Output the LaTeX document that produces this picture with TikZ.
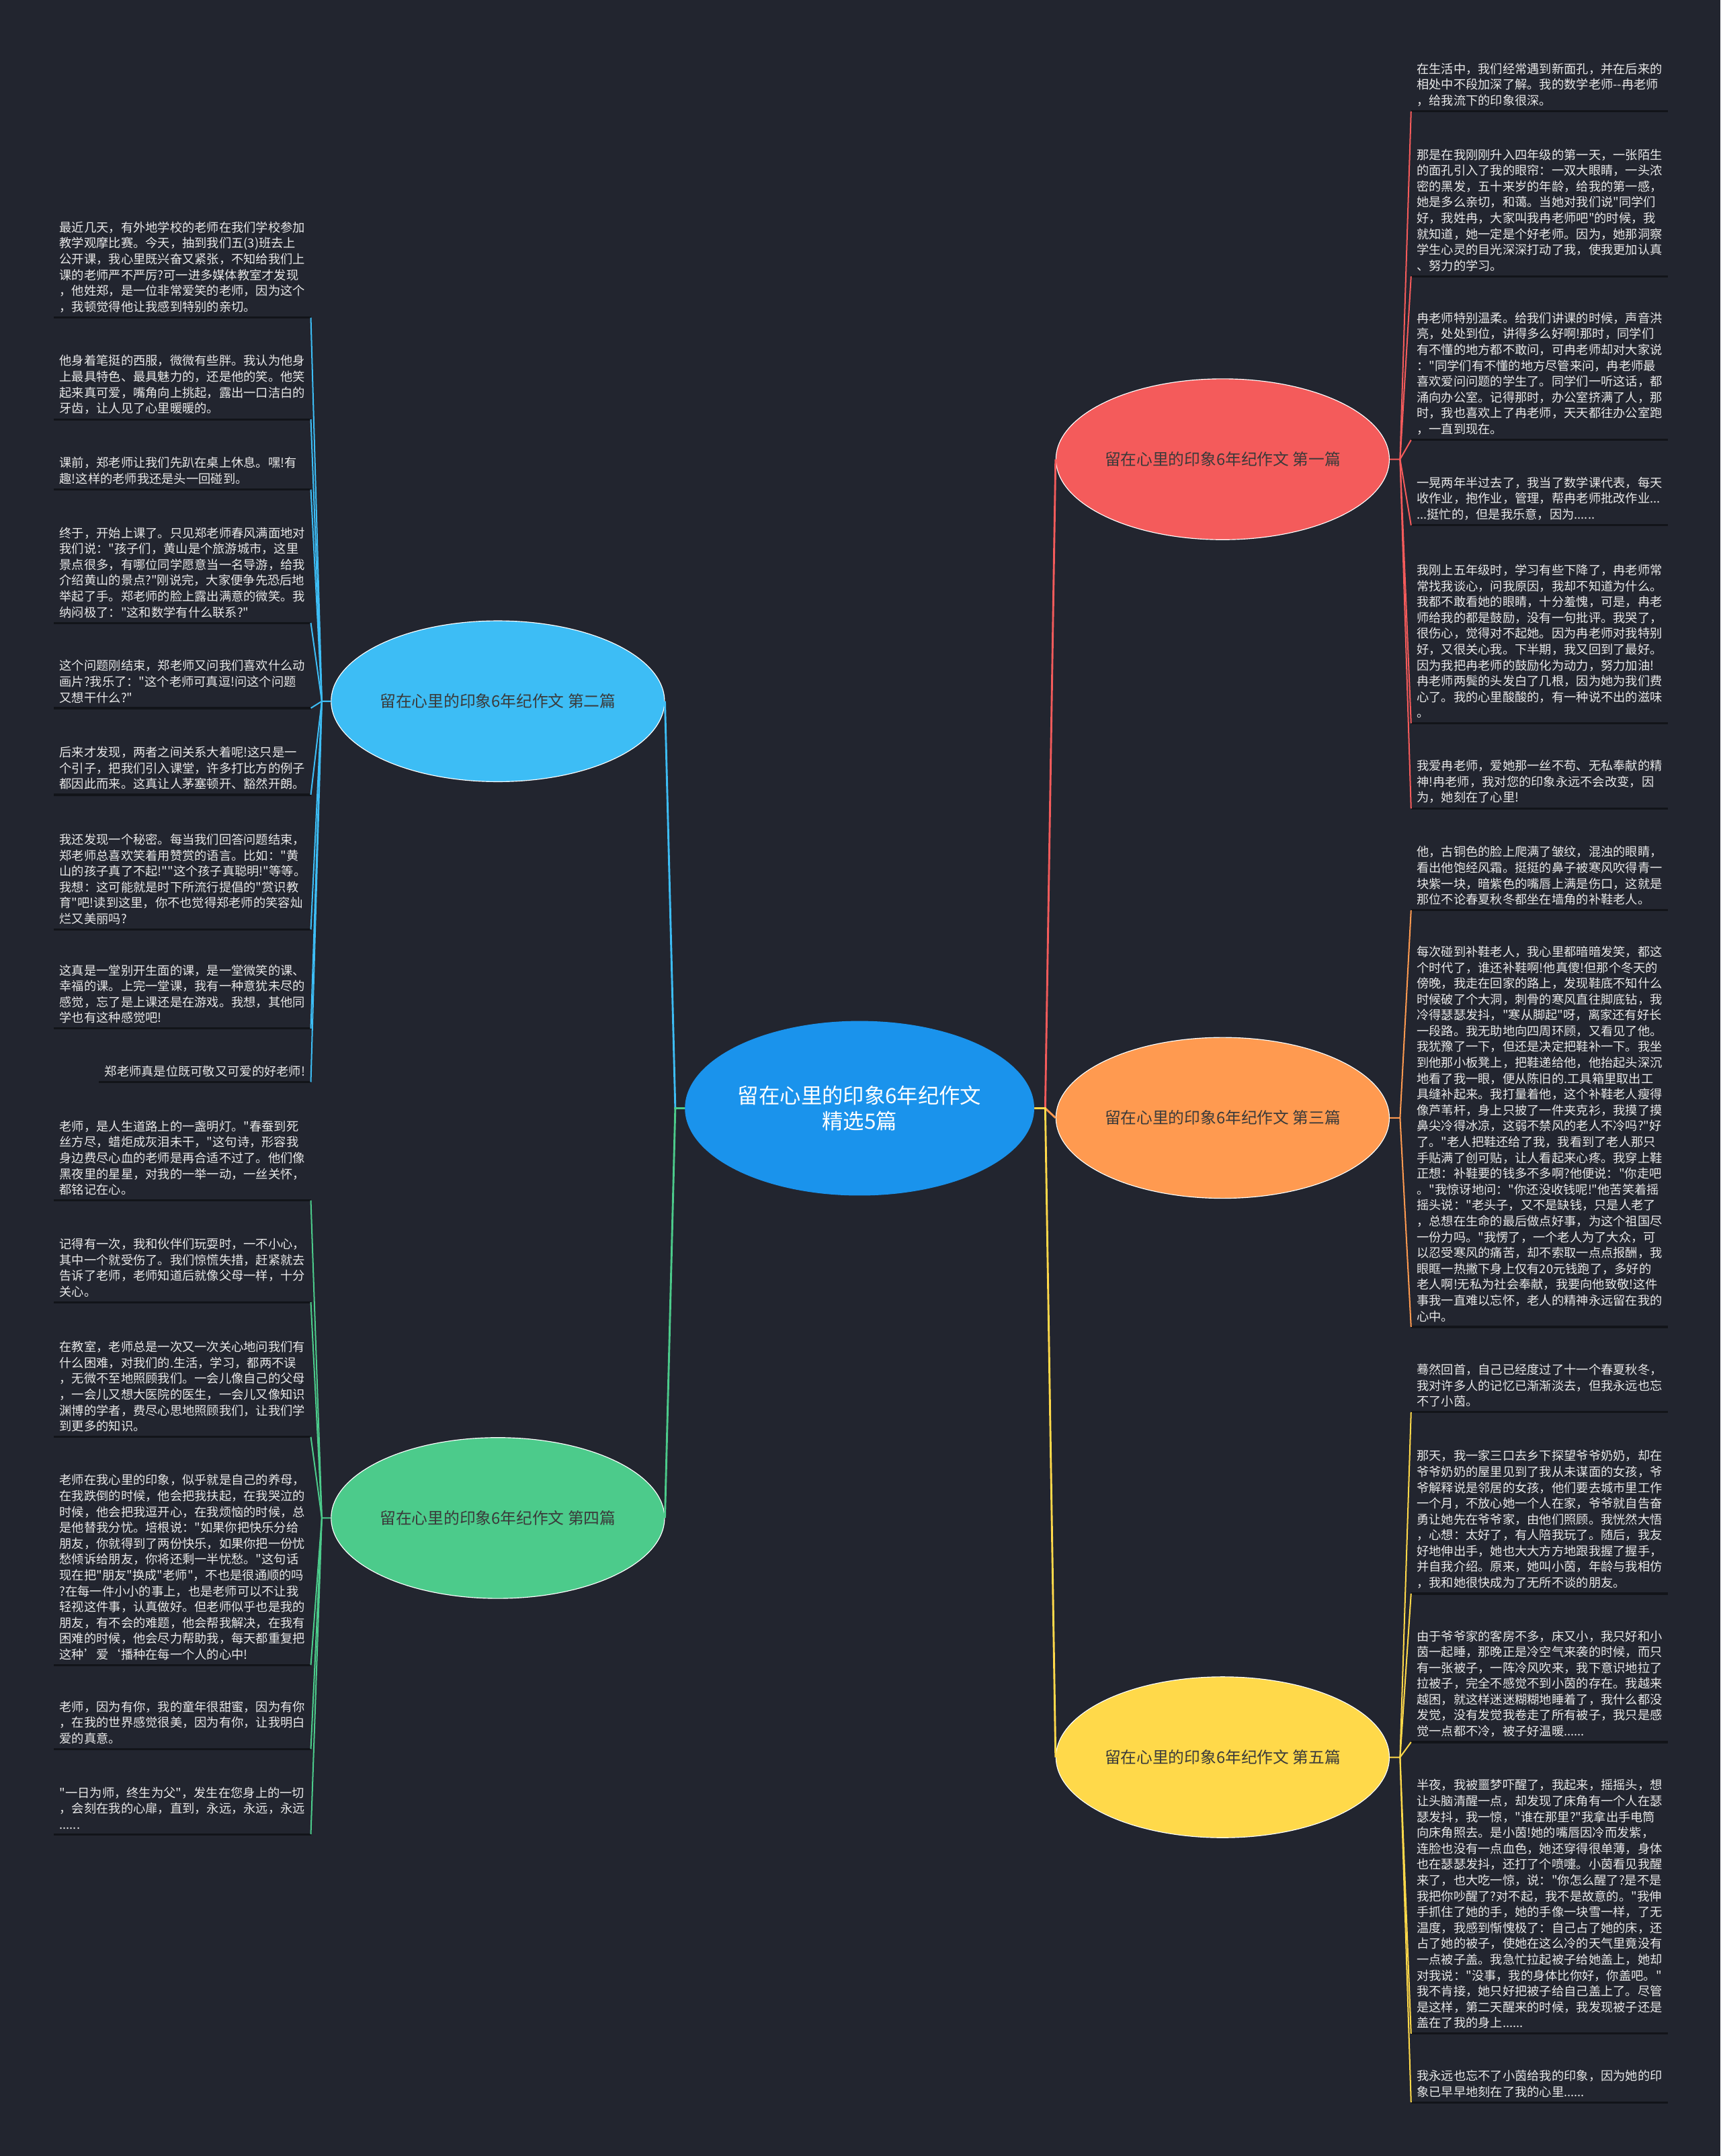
\documentclass[tikz,border=0pt]{standalone}
\usepackage{fontspec}
\usetikzlibrary{shapes.geometric}
\newfontfamily\cjk{Noto Sans CJK SC}
\definecolor{bgDark}{HTML}{22252F}
\definecolor{rootBlue}{HTML}{1A93EC}
\definecolor{topRed}{HTML}{F45B5B}
\definecolor{topBlue}{HTML}{3DBDF5}
\definecolor{topOrange}{HTML}{FF9A50}
\definecolor{topGreen}{HTML}{4CCB8B}
\definecolor{topYellow}{HTML}{FFD94A}
\definecolor{topicText}{HTML}{3A3A3A}
\definecolor{leafText}{HTML}{E8E8E8}
\definecolor{ulineDark}{HTML}{121419}

\begin{document}
\begin{tikzpicture}[x=0.05cm, y=-0.05cm,
    root/.style={ellipse, fill=rootBlue, minimum width=12.7cm, minimum height=6.35cm,
                 inner sep=0pt, align=center, text=white,
                 font=\cjk\fontsize{21.8}{27}\selectfont},
    topic/.style={ellipse, draw=white, line width=0.8pt, minimum width=12.1cm,
                  minimum height=5.85cm, inner sep=0pt, text=topicText,
                  font=\cjk\fontsize{16.5}{20}\selectfont},
    uline/.style={draw=ulineDark, line width=2.2pt},
    leaf/.style={align=left, inner xsep=5.7pt, inner ysep=5pt, text=leafText,
                 font=\cjk\fontsize{12.7}{16.4}\selectfont,
                 append after command={(\tikzlastnode.south west) edge[uline] (\tikzlastnode.south east)}},
    leafL/.style={leaf, text width=254pt, anchor=south east},
    leafR/.style={leaf, text width=254pt, anchor=south west},
    link/.style={line width=2pt},
    twig/.style={line width=1.4pt},
  ]
  \fill[bgDark] (0,0) rectangle (1251,1568);
  \useasboundingbox (0,0) rectangle (1251,1568);

  % centre and the five essays
  \node[root] (main) at (625,806) {留在心里的印象6年纪作文\\精选5篇};
  \node[topic, fill=topRed] (t1) at (889,334) {留在心里的印象6年纪作文 第一篇};
  \node[topic, fill=topBlue] (t2) at (362,510) {留在心里的印象6年纪作文 第二篇};
  \node[topic, fill=topOrange] (t3) at (889,813) {留在心里的印象6年纪作文 第三篇};
  \node[topic, fill=topGreen] (t4) at (362,1104) {留在心里的印象6年纪作文 第四篇};
  \node[topic, fill=topYellow] (t5) at (889,1278) {留在心里的印象6年纪作文 第五篇};

  \coordinate (jr) at (760,806);
  \coordinate (jl) at (491,806);
  \draw[link, topRed] (main.east) -- (jr) -- (t1.west);
  \draw[link, topOrange] (main.east) -- (jr) -- (t3.west);
  \draw[link, topYellow] (main.east) -- (jr) -- (t5.west);
  \draw[link, topBlue] (main.west) -- (jl) -- (t2.east);
  \draw[link, topGreen] (main.west) -- (jl) -- (t4.east);

  % essay 2, left, blue
  \node[leafL] (b1) at (226,231) {最近几天，有外地学校的老师在我们学校参加\\教学观摩比赛。今天，抽到我们五(3)班去上\\公开课，我心里既兴奋又紧张，不知给我们上\\课的老师严不严厉?可一进多媒体教室才发现\\，他姓郑，是一位非常爱笑的老师，因为这个\\，我顿觉得他让我感到特别的亲切。};
  \node[leafL] (b2) at (226,305) {他身着笔挺的西服，微微有些胖。我认为他身\\上最具特色、最具魅力的，还是他的笑。他笑\\起来真可爱，嘴角向上挑起，露出一口洁白的\\牙齿，让人见了心里暖暖的。};
  \node[leafL] (b3) at (226,356) {课前，郑老师让我们先趴在桌上休息。嘿!有\\趣!这样的老师我还是头一回碰到。};
  \node[leafL] (b4) at (226,453) {终于，开始上课了。只见郑老师春风满面地对\\我们说："孩子们，黄山是个旅游城市，这里\\景点很多，有哪位同学愿意当一名导游，给我\\介绍黄山的景点?"刚说完，大家便争先恐后地\\举起了手。郑老师的脸上露出满意的微笑。我\\纳闷极了："这和数学有什么联系?"};
  \node[leafL] (b5) at (226,515) {这个问题刚结束，郑老师又问我们喜欢什么动\\画片?我乐了："这个老师可真逗!问这个问题\\又想干什么?"};
  \node[leafL] (b6) at (226,578) {后来才发现，两者之间关系大着呢!这只是一\\个引子，把我们引入课堂，许多打比方的例子\\都因此而来。这真让人茅塞顿开、豁然开朗。};
  \node[leafL] (b7) at (226,676) {我还发现一个秘密。每当我们回答问题结束，\\郑老师总喜欢笑着用赞赏的语言。比如："黄\\山的孩子真了不起!""这个孩子真聪明!"等等。\\我想：这可能就是时下所流行提倡的"赏识教\\育"吧!读到这里，你不也觉得郑老师的笑容灿\\烂又美丽吗?};
  \node[leafL] (b8) at (226,748) {这真是一堂别开生面的课，是一堂微笑的课、\\幸福的课。上完一堂课，我有一种意犹未尽的\\感觉，忘了是上课还是在游戏。我想，其他同\\学也有这种感觉吧!};
  \node[leaf, anchor=south east] (b9) at (226,787) {郑老师真是位既可敬又可爱的好老师!};

  \coordinate (f2) at (234,510);
  \draw[twig, topBlue] (t2.west) -- (f2) -- (b1.south east);
  \draw[twig, topBlue] (f2) -- (b2.south east);
  \draw[twig, topBlue] (f2) -- (b3.south east);
  \draw[twig, topBlue] (f2) -- (b4.south east);
  \draw[twig, topBlue] (f2) -- (b5.south east);
  \draw[twig, topBlue] (f2) -- (b6.south east);
  \draw[twig, topBlue] (f2) -- (b7.south east);
  \draw[twig, topBlue] (f2) -- (b8.south east);
  \draw[twig, topBlue] (f2) -- (b9.south east);

  % essay 4, left, green
  \node[leafL] (g1) at (226,873) {老师，是人生道路上的一盏明灯。"春蚕到死\\丝方尽，蜡炬成灰泪未干，"这句诗，形容我\\身边费尽心血的老师是再合适不过了。他们像\\黑夜里的星星，对我的一举一动，一丝关怀，\\都铭记在心。};
  \node[leafL] (g2) at (226,947) {记得有一次，我和伙伴们玩耍时，一不小心，\\其中一个就受伤了。我们惊慌失措，赶紧就去\\告诉了老师，老师知道后就像父母一样，十分\\关心。};
  \node[leafL] (g3) at (226,1045) {在教室，老师总是一次又一次关心地问我们有\\什么困难，对我们的.生活，学习，都两不误\\，无微不至地照顾我们。一会儿像自己的父母\\，一会儿又想大医院的医生，一会儿又像知识\\渊博的学者，费尽心思地照顾我们，让我们学\\到更多的知识。};
  \node[leafL] (g4) at (226,1211) {老师在我心里的印象，似乎就是自己的养母，\\在我跌倒的时候，他会把我扶起，在我哭泣的\\时候，他会把我逗开心，在我烦恼的时候，总\\是他替我分忧。培根说："如果你把快乐分给\\朋友，你就得到了两份快乐，如果你把一份忧\\愁倾诉给朋友，你将还剩一半忧愁。"这句话\\现在把"朋友"换成"老师"，不也是很通顺的吗\\?在每一件小小的事上，也是老师可以不让我\\轻视这件事，认真做好。但老师似乎也是我的\\朋友，有不会的难题，他会帮我解决，在我有\\困难的时候，他会尽力帮助我，每天都重复把\\这种’爱‘播种在每一个人的心中!};
  \node[leafL] (g5) at (226,1272) {老师，因为有你，我的童年很甜蜜，因为有你\\，在我的世界感觉很美，因为有你，让我明白\\爱的真意。};
  \node[leafL] (g6) at (226,1334) {"一日为师，终生为父"，发生在您身上的一切\\，会刻在我的心扉，直到，永远，永远，永远\\......};

  \coordinate (f4) at (234,1104);
  \draw[twig, topGreen] (t4.west) -- (f4) -- (g1.south east);
  \draw[twig, topGreen] (f4) -- (g2.south east);
  \draw[twig, topGreen] (f4) -- (g3.south east);
  \draw[twig, topGreen] (f4) -- (g4.south east);
  \draw[twig, topGreen] (f4) -- (g5.south east);
  \draw[twig, topGreen] (f4) -- (g6.south east);

  % essay 1, right, red
  \node[leafR] (r1) at (1026,81) {在生活中，我们经常遇到新面孔，并在后来的\\相处中不段加深了解。我的数学老师--冉老师\\，给我流下的印象很深。};
  \node[leafR] (r2) at (1026,201) {那是在我刚刚升入四年级的第一天，一张陌生\\的面孔引入了我的眼帘：一双大眼睛，一头浓\\密的黑发，五十来岁的年龄，给我的第一感，\\她是多么亲切，和蔼。当她对我们说"同学们\\好，我姓冉，大家叫我冉老师吧"的时候，我\\就知道，她一定是个好老师。因为，她那洞察\\学生心灵的目光深深打动了我，使我更加认真\\、努力的学习。};
  \node[leafR] (r3) at (1026,320) {冉老师特别温柔。给我们讲课的时候，声音洪\\亮，处处到位，讲得多么好啊!那时，同学们\\有不懂的地方都不敢问，可冉老师却对大家说\\："同学们有不懂的地方尽管来问，冉老师最\\喜欢爱问问题的学生了。同学们一听这话，都\\涌向办公室。记得那时，办公室挤满了人，那\\时，我也喜欢上了冉老师，天天都往办公室跑\\，一直到现在。};
  \node[leafR] (r4) at (1026,382) {一晃两年半过去了，我当了数学课代表，每天\\收作业，抱作业，管理，帮冉老师批改作业...\\...挺忙的，但是我乐意，因为......};
  \node[leafR] (r5) at (1026,526) {我刚上五年级时，学习有些下降了，冉老师常\\常找我谈心，问我原因，我却不知道为什么。\\我都不敢看她的眼睛，十分羞愧，可是，冉老\\师给我的都是鼓励，没有一句批评。我哭了，\\很伤心，觉得对不起她。因为冉老师对我特别\\好，又很关心我。下半期，我又回到了最好。\\因为我把冉老师的鼓励化为动力，努力加油!\\冉老师两鬓的头发白了几根，因为她为我们费\\心了。我的心里酸酸的，有一种说不出的滋味\\。};
  \node[leafR] (r6) at (1026,588) {我爱冉老师，爱她那一丝不苟、无私奉献的精\\神!冉老师，我对您的印象永远不会改变，因\\为，她刻在了心里!};

  \coordinate (f1) at (1018,334);
  \draw[twig, topRed] (t1.east) -- (f1) -- (r1.south west);
  \draw[twig, topRed] (f1) -- (r2.south west);
  \draw[twig, topRed] (f1) -- (r3.south west);
  \draw[twig, topRed] (f1) -- (r4.south west);
  \draw[twig, topRed] (f1) -- (r5.south west);
  \draw[twig, topRed] (f1) -- (r6.south west);

  % essay 3, right, orange
  \node[leafR] (o1) at (1026,662) {他，古铜色的脸上爬满了皱纹，混浊的眼睛，\\看出他饱经风霜。挺挺的鼻子被寒风吹得青一\\块紫一块，暗紫色的嘴唇上满是伤口，这就是\\那位不论春夏秋冬都坐在墙角的补鞋老人。};
  \node[leafR] (o2) at (1026,965) {每次碰到补鞋老人，我心里都暗暗发笑，都这\\个时代了，谁还补鞋啊!他真傻!但那个冬天的\\傍晚，我走在回家的路上，发现鞋底不知什么\\时候破了个大洞，刺骨的寒风直往脚底钻，我\\冷得瑟瑟发抖，"寒从脚起"呀，离家还有好长\\一段路。我无助地向四周环顾，又看见了他。\\我犹豫了一下，但还是决定把鞋补一下。我坐\\到他那小板凳上，把鞋递给他，他抬起头深沉\\地看了我一眼，便从陈旧的.工具箱里取出工\\具缝补起来。我打量着他，这个补鞋老人瘦得\\像芦苇杆，身上只披了一件夹克衫，我摸了摸\\鼻尖冷得冰凉，这弱不禁风的老人不冷吗?"好\\了。"老人把鞋还给了我，我看到了老人那只\\手贴满了创可贴，让人看起来心疼。我穿上鞋\\正想：补鞋要的钱多不多啊?他便说："你走吧\\。"我惊讶地问："你还没收钱呢!"他苦笑着摇\\摇头说："老头子，又不是缺钱，只是人老了\\，总想在生命的最后做点好事，为这个祖国尽\\一份力吗。"我愣了，一个老人为了大众，可\\以忍受寒风的痛苦，却不索取一点点报酬，我\\眼眶一热撇下身上仅有20元钱跑了，多好的\\老人啊!无私为社会奉献，我要向他致敬!这件\\事我一直难以忘怀，老人的精神永远留在我的\\心中。};

  \coordinate (f3) at (1018,813);
  \draw[twig, topOrange] (t3.east) -- (f3) -- (o1.south west);
  \draw[twig, topOrange] (f3) -- (o2.south west);

  % essay 5, right, yellow
  \node[leafR] (y1) at (1026,1027) {蓦然回首，自己已经度过了十一个春夏秋冬，\\我对许多人的记忆已渐渐淡去，但我永远也忘\\不了小茵。};
  \node[leafR] (y2) at (1026,1159) {那天，我一家三口去乡下探望爷爷奶奶，却在\\爷爷奶奶的屋里见到了我从未谋面的女孩，爷\\爷解释说是邻居的女孩，他们要去城市里工作\\一个月，不放心她一个人在家，爷爷就自告奋\\勇让她先在爷爷家，由他们照顾。我恍然大悟\\，心想：太好了，有人陪我玩了。随后，我友\\好地伸出手，她也大大方方地跟我握了握手，\\并自我介绍。原来，她叫小茵，年龄与我相仿\\，我和她很快成为了无所不谈的朋友。};
  \node[leafR] (y3) at (1026,1267) {由于爷爷家的客房不多，床又小，我只好和小\\茵一起睡，那晚正是冷空气来袭的时候，而只\\有一张被子，一阵冷风吹来，我下意识地拉了\\拉被子，完全不感觉不到小茵的存在。我越来\\越困，就这样迷迷糊糊地睡着了，我什么都没\\发觉，没有发觉我卷走了所有被子，我只是感\\觉一点都不冷，被子好温暖......};
  \node[leafR] (y4) at (1026,1479) {半夜，我被噩梦吓醒了，我起来，摇摇头，想\\让头脑清醒一点，却发现了床角有一个人在瑟\\瑟发抖，我一惊，"谁在那里?"我拿出手电筒\\向床角照去。是小茵!她的嘴唇因冷而发紫，\\连脸也没有一点血色，她还穿得很单薄，身体\\也在瑟瑟发抖，还打了个喷嚏。小茵看见我醒\\来了，也大吃一惊，说："你怎么醒了?是不是\\我把你吵醒了?对不起，我不是故意的。"我伸\\手抓住了她的手，她的手像一块雪一样，了无\\温度，我感到惭愧极了：自己占了她的床，还\\占了她的被子，使她在这么冷的天气里竟没有\\一点被子盖。我急忙拉起被子给她盖上，她却\\对我说："没事，我的身体比你好，你盖吧。"\\我不肯接，她只好把被子给自己盖上了。尽管\\是这样，第二天醒来的时候，我发现被子还是\\盖在了我的身上......};
  \node[leafR] (y5) at (1026,1529) {我永远也忘不了小茵给我的印象，因为她的印\\象已早早地刻在了我的心里......};

  \coordinate (f5) at (1018,1278);
  \draw[twig, topYellow] (t5.east) -- (f5) -- (y1.south west);
  \draw[twig, topYellow] (f5) -- (y2.south west);
  \draw[twig, topYellow] (f5) -- (y3.south west);
  \draw[twig, topYellow] (f5) -- (y4.south west);
  \draw[twig, topYellow] (f5) -- (y5.south west);
\end{tikzpicture}
\end{document}
